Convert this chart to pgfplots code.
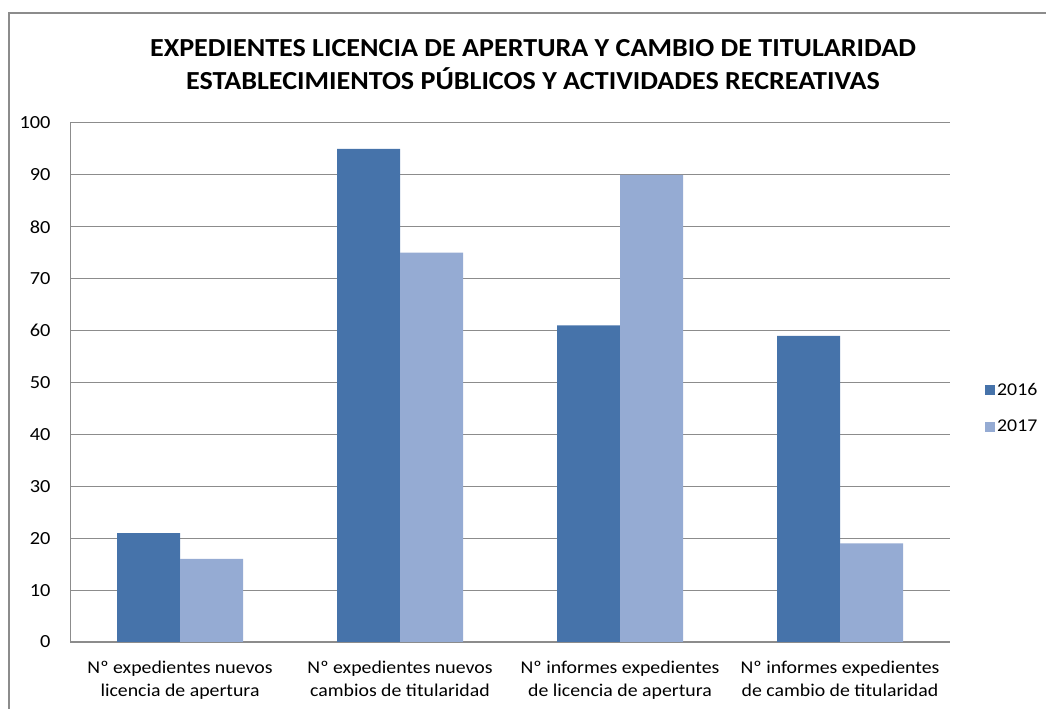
\documentclass[border=0pt]{standalone}
\usepackage{pgfplots}
\pgfplotsset{compat=1.18}
\usepackage{fontspec}
\setmainfont{Carlito}[FakeStretch=1.1]
\newfontfamily\tfont{Carlito}[FakeStretch=1.08]
\definecolor{dark}{HTML}{4673AA}
\definecolor{light}{HTML}{95ABD3}
\definecolor{gridc}{HTML}{8C8C8C}
\begin{document}
\begin{tikzpicture}
\path[use as bounding box] (0,0) rectangle (1046bp,709bp);
\draw[gridc, line width=2bp] (9bp,0) -- (9bp,696bp) -- (1046bp,696bp);
\node[align=center, font=\tfont\fontsize{26bp}{33bp}\selectfont\bfseries] at (533bp,644bp)
  {EXPEDIENTES LICENCIA DE APERTURA Y CAMBIO DE TITULARIDAD\\ESTABLECIMIENTOS PÚBLICOS Y ACTIVIDADES RECREATIVAS};
\begin{axis}[
  at={(70bp,67bp)}, anchor=south west,
  scale only axis, width=880bp, height=519bp,
  ybar=0pt, bar width=63bp,
  xmin=-0.5, xmax=3.5, ymin=0, ymax=100,
  ytick={0,10,...,100},
  xtick={0,1,2,3},
  xticklabels={{Nº expedientes nuevos\\licencia de apertura},{Nº expedientes nuevos\\cambios de titularidad},{Nº informes expedientes\\de licencia de apertura},{Nº informes expedientes\\de cambio de titularidad}},
  xticklabel style={align=center, font=\fontsize{18bp}{23bp}\selectfont, yshift=-15bp},
  yticklabel style={font=\fontsize{18.5bp}{20bp}\selectfont, xshift=-16bp},
  /pgf/number format/assume math mode=true,
  major tick length=0pt,
  ymajorgrids, grid style={gridc, line width=1bp},
  axis line style={draw=none},
  axis x line*=bottom, axis y line*=left,
  x axis line style={draw=gridc, line width=1.5bp},
  y axis line style={draw=gridc, line width=1bp},
  legend style={draw=none, fill=none, at={(1,0.45)}, anchor=west, xshift=35bp,
    font=\fontsize{18bp}{20bp}\selectfont, row sep=19bp, inner sep=0pt,
    cells={anchor=west}},
  legend image code/.code={\fill[#1] (0bp,-5bp) rectangle (10bp,5bp);},
]
\addplot[fill=dark, draw=none] coordinates {(0,21) (1,95) (2,61) (3,59)};
\addplot[fill=light, draw=none] coordinates {(0,16) (1,75) (2,90) (3,19)};
\legend{2016,2017}
\end{axis}
\end{tikzpicture}
\end{document}
